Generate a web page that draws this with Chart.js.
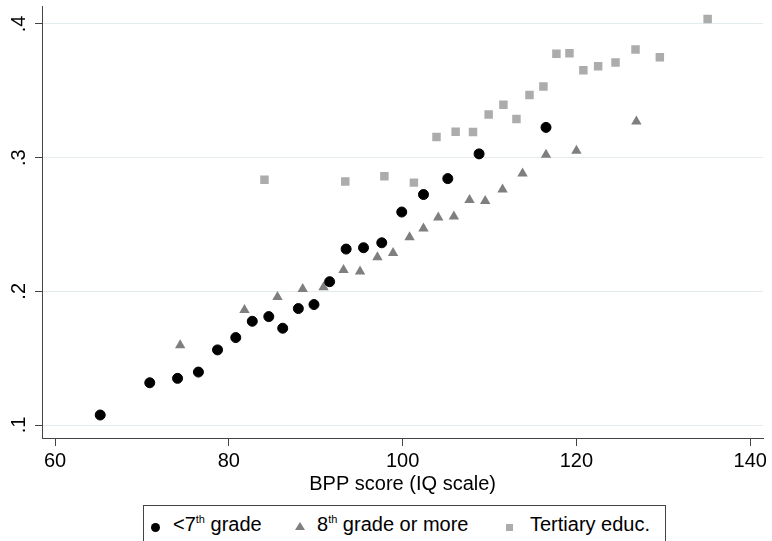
<!DOCTYPE html>
<html>
<head>
<meta charset="utf-8">
<title>BPP score by education</title>
<script src="https://cdn.jsdelivr.net/npm/chart.js@4.4.1/dist/chart.umd.min.js"></script>
<style>
  html, body { margin: 0; padding: 0; background: #fff; overflow: hidden; }
  #wrap { position: relative; width: 772px; height: 541px; }
  #legend {
    position: absolute; left: 143px; top: 505px; width: 521px; height: 44px;
    border: 1px solid #444; background: #fff;
    font: 20px "Liberation Sans", Arial, sans-serif; color: #000;
  }
  #legend .txt { position: absolute; top: 8px; line-height: 20px; white-space: nowrap; }
  #legend sup { font-size: 11px; vertical-align: 0; position: relative; top: -8px; }
  .dot { position: absolute; top: 17px; width: 9px; height: 9px; border-radius: 50%; background: #000; }
  .tri { position: absolute; top: 16px; width: 0; height: 0;
         border-left: 5px solid transparent; border-right: 5px solid transparent; border-bottom: 8px solid #7f7f7f; }
  .sq { position: absolute; top: 18px; width: 7px; height: 7px; background: #acacac; }
</style>
</head>
<body>
<div id="wrap">
  <canvas id="scatterChart" width="772" height="541"></canvas>
  <div id="legend">
    <div class="dot" style="left:7px"></div>
    <div class="txt" style="left:29px">&lt;7<sup>th</sup> grade</div>
    <div class="tri" style="left:151px"></div>
    <div class="txt" style="left:173px">8<sup>th</sup> grade or more</div>
    <div class="sq" style="left:362px"></div>
    <div class="txt" style="left:386px">Tertiary educ.</div>
  </div>
</div>
<script>
// Data
const xLow  = [65.2, 70.9, 74.1, 76.5, 78.7, 80.8, 82.7, 84.6, 86.2, 88.0, 89.8, 91.6, 93.5, 95.5, 97.6, 99.9, 102.4, 105.2, 108.8, 116.5];
const yLow  = [0.1075, 0.1316, 0.1349, 0.1396, 0.1562, 0.1654, 0.1776, 0.1811, 0.1724, 0.1871, 0.1901, 0.2072, 0.2316, 0.2326, 0.2363, 0.2593, 0.2724, 0.2843, 0.3028, 0.3226];

const xMid  = [74.4, 81.8, 85.6, 88.5, 90.9, 93.2, 95.1, 97.1, 98.9, 100.8, 102.4, 104.1, 105.9, 107.7, 109.5, 111.5, 113.8, 116.5, 120.0, 126.9];
const yMid  = [0.1597, 0.1860, 0.1957, 0.2017, 0.2030, 0.2159, 0.2149, 0.2254, 0.2286, 0.2405, 0.2470, 0.2552, 0.2560, 0.2683, 0.2675, 0.2761, 0.2881, 0.3022, 0.3052, 0.3271];

const xHigh = [84.1, 93.4, 97.9, 101.3, 103.9, 106.1, 108.1, 109.9, 111.6, 113.1, 114.6, 116.2, 117.7, 119.2, 120.8, 122.5, 124.5, 126.8, 129.6, 135.1];
const yHigh = [0.2834, 0.2821, 0.2860, 0.2813, 0.3154, 0.3194, 0.3192, 0.3323, 0.3396, 0.3289, 0.3468, 0.3532, 0.3776, 0.3781, 0.3654, 0.3684, 0.3711, 0.3808, 0.3751, 0.4037];

const seriesNames = ['<7th grade', '8th grade or more', 'Tertiary educ.'];
const xTicks = [60, 80, 100, 120, 140];
const yTicks = [0.1, 0.2, 0.3, 0.4];
const yTickLabels = ['.1', '.2', '.3', '.4'];
const xTitle = 'BPP score (IQ scale)';

const FONT = '"Liberation Sans", Arial, sans-serif';
const AXIS = '#444';

function points(xs, ys) {
    return xs.map((x, i) => ({ x: x, y: ys[i] }));
}

// rotated y tick labels, Stata style
const yLabelPlugin = {
    id: 'yLabels',
    afterDraw(chart) {
        const ctx = chart.ctx;
        const y = chart.scales.y;
        ctx.save();
        ctx.font = '20px ' + FONT;
        ctx.fillStyle = '#000';
        ctx.textAlign = 'center';
        ctx.textBaseline = 'middle';
        yTicks.forEach((v, i) => {
            ctx.save();
            ctx.translate(19, y.getPixelForValue(v));
            ctx.rotate(-Math.PI / 2);
            ctx.fillText(yTickLabels[i], 0, 0);
            ctx.restore();
        });
        ctx.restore();
    }
};

Chart.defaults.font.family = FONT;

var ctxScatter = document.getElementById('scatterChart').getContext('2d');
var scatterChart = new Chart(ctxScatter, {
    type: 'scatter',
    data: {
        datasets: [{
            label: seriesNames[0],
            data: points(xLow, yLow),
            pointStyle: 'circle',
            pointRadius: 5,
            backgroundColor: '#000',
            borderColor: '#000',
            borderWidth: 1
        }, {
            label: seriesNames[1],
            data: points(xMid, yMid),
            pointStyle: 'triangle',
            pointRadius: 6,
            backgroundColor: '#7f7f7f',
            borderWidth: 0
        }, {
            label: seriesNames[2],
            data: points(xHigh, yHigh),
            pointStyle: 'rect',
            pointRadius: 6,
            backgroundColor: '#acacac',
            borderWidth: 0
        }]
    },
    options: {
        responsive: false,
        animation: false,
        devicePixelRatio: 1,
        layout: { padding: { top: 6, right: 5, bottom: 47, left: 0 } },
        plugins: {
            legend: { display: false },
            tooltip: { enabled: false }
        },
        scales: {
            x: {
                type: 'linear',
                min: 58.5,
                max: 141.5,
                afterBuildTicks: s => { s.ticks = xTicks.map(v => ({ value: v })); },
                ticks: {
                    font: { size: 20, lineHeight: 1 },
                    color: '#000',
                    padding: 5,
                    maxRotation: 0,
                    autoSkip: false,
                    callback: v => String(v)
                },
                grid: { drawOnChartArea: false, tickLength: 8, tickColor: AXIS },
                border: { color: AXIS, width: 1 },
                title: {
                    display: true,
                    text: xTitle,
                    color: '#000',
                    font: { size: 20, lineHeight: 1 },
                    padding: { top: -2, bottom: 0 }
                }
            },
            y: {
                type: 'linear',
                min: 0.0903,
                max: 0.4134,
                afterBuildTicks: s => { s.ticks = yTicks.map(v => ({ value: v })); },
                afterFit: s => { s.width = 42; },
                ticks: { display: false },
                grid: { color: '#e3ebee', tickLength: 7, tickColor: AXIS },
                border: { color: AXIS, width: 1 }
            }
        }
    },
    plugins: [yLabelPlugin]
});
</script>
</body>
</html>
